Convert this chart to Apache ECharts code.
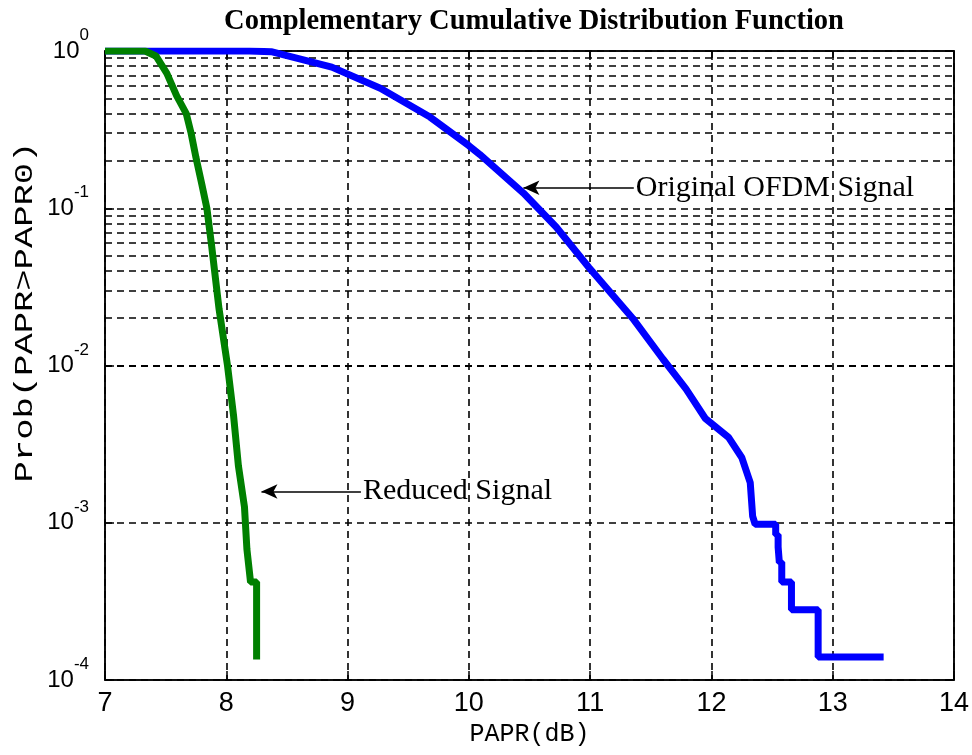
<!DOCTYPE html>
<html>
<head>
<meta charset="utf-8">
<title>CCDF</title>
<script src="https://cdn.jsdelivr.net/npm/echarts@6/dist/echarts.min.js"></script>
<style>
  html, body { margin: 0; padding: 0; background: #fff; }
  #chart { width: 972px; height: 755px; }
</style>
</head>
<body>
<div id="chart"></div>
<script>
// values: [PAPR dB, probability]
const originalSignal = [
  [7, 1], [8.19, 1], [8.37, 0.99], [8.87, 0.79], [9.27, 0.58], [9.68, 0.38],
  [10.0, 0.25], [10.09, 0.22], [10.45, 0.125], [10.72, 0.076], [10.99, 0.042],
  [11.35, 0.020], [11.6, 0.011], [11.79, 0.0071], [11.95, 0.0046],
  [12.14, 0.0035], [12.25, 0.0026], [12.32, 0.0018], [12.34, 0.0011],
  [12.36, 0.00098], [12.53, 0.00098], [12.53, 0.00084], [12.55, 0.00084],
  [12.55, 0.0007], [12.56, 0.00056], [12.58, 0.00056], [12.58, 0.00042],
  [12.66, 0.00042], [12.66, 0.00028], [12.88, 0.00028], [12.88, 0.00014],
  [13.42, 0.00014]
]
const reducedSignal = [
  [7, 1], [7.33, 1], [7.42, 0.93], [7.51, 0.72], [7.59, 0.52], [7.67, 0.40],
  [7.71, 0.30], [7.75, 0.21], [7.80, 0.14], [7.84, 0.1], [7.88, 0.057],
  [7.94, 0.023], [8.01, 0.01], [8.06, 0.0048], [8.10, 0.0023], [8.15, 0.00126],
  [8.17, 0.00068], [8.20, 0.00042], [8.25, 0.00042], [8.25, 0.000135]
]
const xTicks = [7, 8, 9, 10, 11, 12, 13, 14]
const decades = [-4, -3, -2, -1, 0]
const minorSteps = [2, 3, 4, 5, 6, 7, 8, 9]
// annotation arrows: [arrow tip, text start]
const originalNote = { text: 'Original OFDM Signal', from: [10.45, 0.135], to: [11.36, 0.135] }
const reducedNote = { text: 'Reduced Signal', from: [8.29, 0.00158], to: [9.11, 0.00158] }

const minorLines = []
decades.slice(0, -1).forEach(function(d) {
  minorSteps.forEach(function(k) {
    minorLines.push({ yAxis: k * Math.pow(10, d) })
  })
})

const dash = [7, 5]
const gridStyle = { color: '#000', type: dash, width: 1.6 }
const tickFont = 'Liberation Sans Narrow, Liberation Sans, Arial, sans-serif'
const monoFont = 'Liberation Mono, Courier New, monospace'

function noteLine(note) {
  return [
    { coord: note.from, symbol: 'arrow', symbolSize: [11, 16] },
    {
      coord: note.to,
      symbol: 'none',
      label: {
        show: true,
        position: 'end',
        distance: 2,
        formatter: note.text,
        fontFamily: 'Liberation Serif, Times New Roman, serif',
        fontSize: 30,
        color: '#000'
      }
    }
  ]
}

const chart = echarts.init(document.getElementById('chart'))
chart.setOption({
  animation: false,
  backgroundColor: '#fff',
  title: {
    text: 'Complementary Cumulative Distribution Function',
    left: 529,
    top: 2,
    textAlign: 'center',
    textStyle: {
      fontFamily: 'Liberation Serif, Times New Roman, serif',
      fontWeight: 'bold',
      fontSize: 28.5,
      color: '#000'
    }
  },
  graphic: [{
    type: 'text',
    x: 25,
    y: 312,
    rotation: Math.PI / 2,
    scaleX: 1.42,
    style: {
      text: 'Prob(PAPR>PAPR0)',
      font: '25px ' + monoFont,
      fill: '#000',
      align: 'center',
      verticalAlign: 'middle'
    }
  }],
  grid: {
    left: 105,
    right: 11,
    top: 51,
    bottom: 75,
    show: true,
    borderColor: '#000',
    borderWidth: 1.5
  },
  xAxis: [{
    type: 'value',
    min: 7,
    max: 14,
    interval: 1,
    name: 'PAPR(dB)',
    nameLocation: 'middle',
    nameGap: 40,
    nameTextStyle: {
      fontFamily: monoFont,
      fontSize: 25,
      color: '#000'
    },
    axisLine: { lineStyle: { color: '#000', width: 1.5 } },
    axisTick: { inside: true, length: 9, lineStyle: { color: '#000', width: 1.5 } },
    axisLabel: {
      margin: 10,
      color: '#000',
      fontFamily: tickFont,
      fontSize: 27,
      formatter: function(v) { return xTicks.indexOf(v) >= 0 ? String(v) : '' }
    },
    splitLine: { show: true, lineStyle: gridStyle }
  }, {
    type: 'value',
    position: 'top',
    min: 7,
    max: 14,
    interval: 1,
    axisLine: { lineStyle: { color: '#000', width: 1.5 } },
    axisTick: { inside: true, length: 9, lineStyle: { color: '#000', width: 1.5 } },
    axisLabel: { show: false },
    splitLine: { show: false }
  }],
  yAxis: [{
    type: 'log',
    logBase: 10,
    min: 1e-4,
    max: 1,
    axisLine: { lineStyle: { color: '#000', width: 1.5 } },
    axisTick: { inside: true, length: 9, lineStyle: { color: '#000', width: 1.5 } },
    axisLabel: {
      margin: 16,
      color: '#000',
      formatter: function(v) {
        const e = Math.round(Math.log10(v))
        if (decades.indexOf(e) < 0) return ''
        return '{b|10}{s|' + e + '}'
      },
      rich: {
        b: { fontFamily: tickFont, fontSize: 24, lineHeight: 24, height: 24, padding: [12, 0, 12, 0], color: '#000' },
        s: { fontFamily: tickFont, fontSize: 17, lineHeight: 17, height: 17, padding: [0, 0, 31, 0], color: '#000' }
      }
    },
    splitLine: { show: true, lineStyle: gridStyle }
  }, {
    type: 'log',
    logBase: 10,
    position: 'right',
    min: 1e-4,
    max: 1,
    axisLine: { lineStyle: { color: '#000', width: 1.5 } },
    axisTick: { inside: true, length: 9, lineStyle: { color: '#000', width: 1.5 } },
    axisLabel: { show: false },
    splitLine: { show: false }
  }],
  series: [
    {
      name: 'Original OFDM Signal',
      type: 'line',
      showSymbol: false,
      data: originalSignal,
      lineStyle: { color: '#0000ff', width: 7 },
      z: 3,
      markLine: {
        silent: true,
        symbol: 'none',
        label: { show: false },
        lineStyle: gridStyle,
        data: minorLines,
        z: 1
      }
    },
    {
      name: 'Reduced Signal',
      type: 'line',
      showSymbol: false,
      data: reducedSignal,
      lineStyle: { color: '#008000', width: 7 },
      z: 3,
      markLine: {
        silent: true,
        lineStyle: { color: '#000', type: 'solid', width: 1.5 },
        data: [noteLine(originalNote), noteLine(reducedNote)]
      }
    }
  ]
})
</script>
</body>
</html>
